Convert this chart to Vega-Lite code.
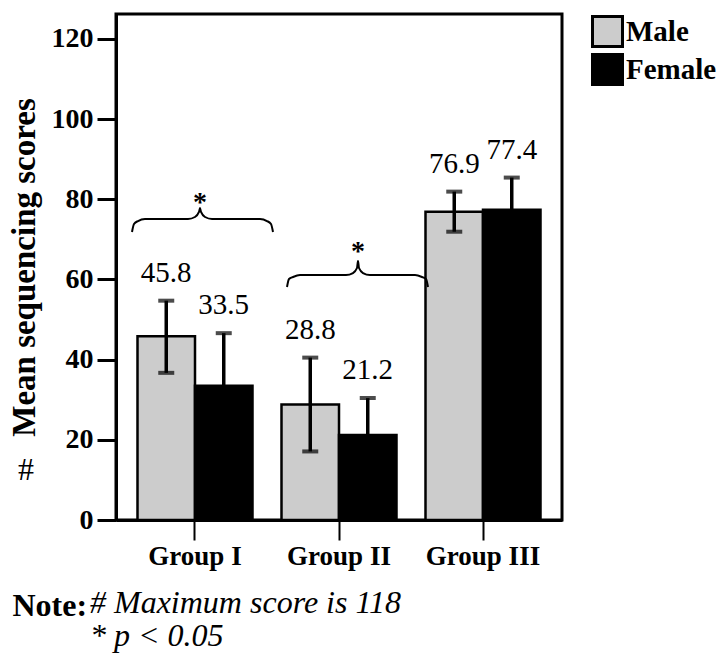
{
  "$schema": "https://vega.github.io/schema/vega-lite/v6.json",
  "width": 446,
  "height": 506,
  "autosize": {"type": "none"},
  "padding": {"left": 116, "top": 14, "right": 156, "bottom": 136},
  "config": {
    "view": {"stroke": "black", "strokeWidth": 3},
    "font": "Liberation Serif",
    "axis": {"domainColor": "black", "tickColor": "black", "labelColor": "black", "titleColor": "black", "grid": false, "labelFont": "Liberation Serif", "titleFont": "Liberation Serif"}
  },
  "title": {
    "text": ["# Maximum score is 118", "* p < 0.05"],
    "orient": "bottom",
    "anchor": "start",
    "frame": "group",
    "align": "left",
    "dx": -26,
    "offset": -33,
    "font": "Liberation Serif",
    "fontSize": 32,
    "fontStyle": "italic",
    "fontWeight": "normal",
    "lineHeight": 33,
    "color": "black"
  },
  "layer": [
    {
      "data": {"values": [
        {"group": "Group I", "sex": "Male", "mean": 45.8, "lower": 36.7, "upper": 54.7},
        {"group": "Group I", "sex": "Female", "mean": 33.5, "lower": 20.4, "upper": 46.6},
        {"group": "Group II", "sex": "Male", "mean": 28.8, "lower": 17.1, "upper": 40.5},
        {"group": "Group II", "sex": "Female", "mean": 21.2, "lower": 12.0, "upper": 30.4},
        {"group": "Group III", "sex": "Male", "mean": 76.9, "lower": 71.9, "upper": 81.9},
        {"group": "Group III", "sex": "Female", "mean": 77.4, "lower": 69.4, "upper": 85.4}
      ]},
      "layer": [
        {
          "mark": {"type": "bar", "stroke": "black", "strokeWidth": 2.5},
          "encoding": {
            "x": {"field": "group", "type": "nominal", "sort": ["Group I", "Group II", "Group III"], "title": "Note:",
                  "scale": {"paddingInner": 0.2014, "paddingOuter": 0.1493},
                  "axis": {"labelFontSize": 27, "labelFontWeight": "bold", "labelAngle": 0, "tickSize": 20, "tickWidth": 2, "domainWidth": 3, "labelPadding": 3,
                           "titleFontSize": 32, "titleFontWeight": "bold", "titleX": -104, "titleAnchor": "start", "titleAlign": "left", "titlePadding": 21}},
            "xOffset": {"field": "sex", "type": "nominal", "sort": ["Male", "Female"], "scale": {"paddingInner": 0, "paddingOuter": 0}},
            "y": {"field": "mean", "type": "quantitative", "title": "Mean sequencing scores",
                  "scale": {"domain": [0, 126.2], "nice": false},
                  "axis": {"values": [0, 20, 40, 60, 80, 100, 120], "labelFontSize": 28, "labelFontWeight": "bold", "tickSize": 19, "tickWidth": 3, "domainWidth": 3, "labelPadding": 4, "titleFontSize": 33, "titleFontWeight": "bold", "titlePadding": 10}},
            "fill": {"field": "sex", "type": "nominal", "scale": {"domain": ["Male", "Female"], "range": ["#cccccc", "#000000"]},
                     "legend": {"title": null, "orient": "none", "legendX": 475, "legendY": 1, "symbolType": "square", "symbolSize": 900, "symbolStrokeColor": "black", "symbolStrokeWidth": 3, "symbolOpacity": 1, "labelFont": "Liberation Serif", "labelFontSize": 29, "labelFontWeight": "bold", "labelColor": "black", "labelOffset": 2, "rowPadding": -5, "padding": 0}}
          }
        },
        {
          "mark": {"type": "rule", "strokeWidth": 3.5, "color": "black"},
          "encoding": {
            "x": {"field": "group", "type": "nominal", "sort": ["Group I", "Group II", "Group III"], "title": "Note:"},
            "xOffset": {"field": "sex", "type": "nominal", "sort": ["Male", "Female"]},
            "y": {"field": "lower", "type": "quantitative", "title": "Mean sequencing scores"},
            "y2": {"field": "upper"}
          }
        },
        {
          "mark": {"type": "tick", "orient": "horizontal", "size": 16, "thickness": 4, "color": "black"},
          "encoding": {
            "x": {"field": "group", "type": "nominal", "sort": ["Group I", "Group II", "Group III"], "title": "Note:"},
            "xOffset": {"field": "sex", "type": "nominal", "sort": ["Male", "Female"]},
            "y": {"field": "upper", "type": "quantitative", "title": "Mean sequencing scores"}
          }
        },
        {
          "mark": {"type": "tick", "orient": "horizontal", "size": 16, "thickness": 4, "color": "black"},
          "encoding": {
            "x": {"field": "group", "type": "nominal", "sort": ["Group I", "Group II", "Group III"], "title": "Note:"},
            "xOffset": {"field": "sex", "type": "nominal", "sort": ["Male", "Female"]},
            "y": {"field": "lower", "type": "quantitative", "title": "Mean sequencing scores"}
          }
        },
        {
          "mark": {"type": "text", "dy": -28, "baseline": "middle", "fontSize": 29, "font": "Liberation Serif", "color": "black"},
          "encoding": {
            "x": {"field": "group", "type": "nominal", "sort": ["Group I", "Group II", "Group III"], "title": "Note:"},
            "xOffset": {"field": "sex", "type": "nominal", "sort": ["Male", "Female"]},
            "y": {"field": "upper", "type": "quantitative", "title": "Mean sequencing scores"},
            "text": {"field": "mean", "type": "quantitative", "format": ".1f"}
          }
        }
      ]
    },
    {
      "layer": [
        {
          "data": {"values": [
            {"brace": "I", "pos": 0.5625, "score": 71.83},
            {"brace": "I", "pos": 0.5764, "score": 73.83},
            {"brace": "I", "pos": 0.6042, "score": 74.57},
            {"brace": "I", "pos": 0.6528, "score": 75.07},
            {"brace": "I", "pos": 0.9514, "score": 75.07},
            {"brace": "I", "pos": 1.0000, "score": 75.57},
            {"brace": "I", "pos": 1.0278, "score": 76.82},
            {"brace": "I", "pos": 1.0347, "score": 77.82},
            {"brace": "I", "pos": 1.0417, "score": 76.82},
            {"brace": "I", "pos": 1.0694, "score": 75.57},
            {"brace": "I", "pos": 1.1181, "score": 75.07},
            {"brace": "I", "pos": 1.4514, "score": 75.07},
            {"brace": "I", "pos": 1.5000, "score": 74.57},
            {"brace": "I", "pos": 1.5278, "score": 73.83},
            {"brace": "I", "pos": 1.5417, "score": 71.83},
            {"brace": "II", "pos": 1.6389, "score": 58.11},
            {"brace": "II", "pos": 1.6528, "score": 60.11},
            {"brace": "II", "pos": 1.6806, "score": 60.61},
            {"brace": "II", "pos": 1.7292, "score": 61.10},
            {"brace": "II", "pos": 2.0486, "score": 61.10},
            {"brace": "II", "pos": 2.0972, "score": 61.60},
            {"brace": "II", "pos": 2.1250, "score": 62.85},
            {"brace": "II", "pos": 2.1319, "score": 64.60},
            {"brace": "II", "pos": 2.1389, "score": 62.85},
            {"brace": "II", "pos": 2.1667, "score": 61.60},
            {"brace": "II", "pos": 2.2153, "score": 61.10},
            {"brace": "II", "pos": 2.5278, "score": 61.10},
            {"brace": "II", "pos": 2.5764, "score": 60.61},
            {"brace": "II", "pos": 2.6042, "score": 60.11},
            {"brace": "II", "pos": 2.6181, "score": 58.11}
          ]},
          "mark": {"type": "line", "color": "black", "strokeWidth": 2, "interpolate": "monotone"},
          "encoding": {
            "x": {"field": "pos", "type": "quantitative", "scale": {"domain": [0.4514, 3.5486], "nice": false, "zero": false}, "axis": null},
            "y": {"field": "score", "type": "quantitative", "title": "Mean sequencing scores"},
            "detail": {"field": "brace", "type": "nominal"},
            "order": {"field": "pos", "type": "quantitative"}
          }
        },
        {
          "data": {"values": [
            {"label": "*", "pos": 1.0347, "score": 80.3},
            {"label": "*", "pos": 2.1319, "score": 68.1}
          ]},
          "mark": {"type": "text", "fontSize": 28, "fontWeight": "bold", "baseline": "middle", "font": "Liberation Serif", "color": "black", "dy": 5},
          "encoding": {
            "x": {"field": "pos", "type": "quantitative", "axis": null},
            "y": {"field": "score", "type": "quantitative", "title": "Mean sequencing scores"},
            "text": {"field": "label"}
          }
        },
        {
          "data": {"values": [
            {"label": "#", "pos": -0.1736, "score": 12.47}
          ]},
          "mark": {"type": "text", "fontSize": 32, "baseline": "middle", "font": "Liberation Serif", "color": "black"},
          "encoding": {
            "x": {"field": "pos", "type": "quantitative", "axis": null},
            "y": {"field": "score", "type": "quantitative", "title": "Mean sequencing scores"},
            "text": {"field": "label"}
          }
        }
      ]
    }
  ],
  "resolve": {"scale": {"x": "independent"}}
}
